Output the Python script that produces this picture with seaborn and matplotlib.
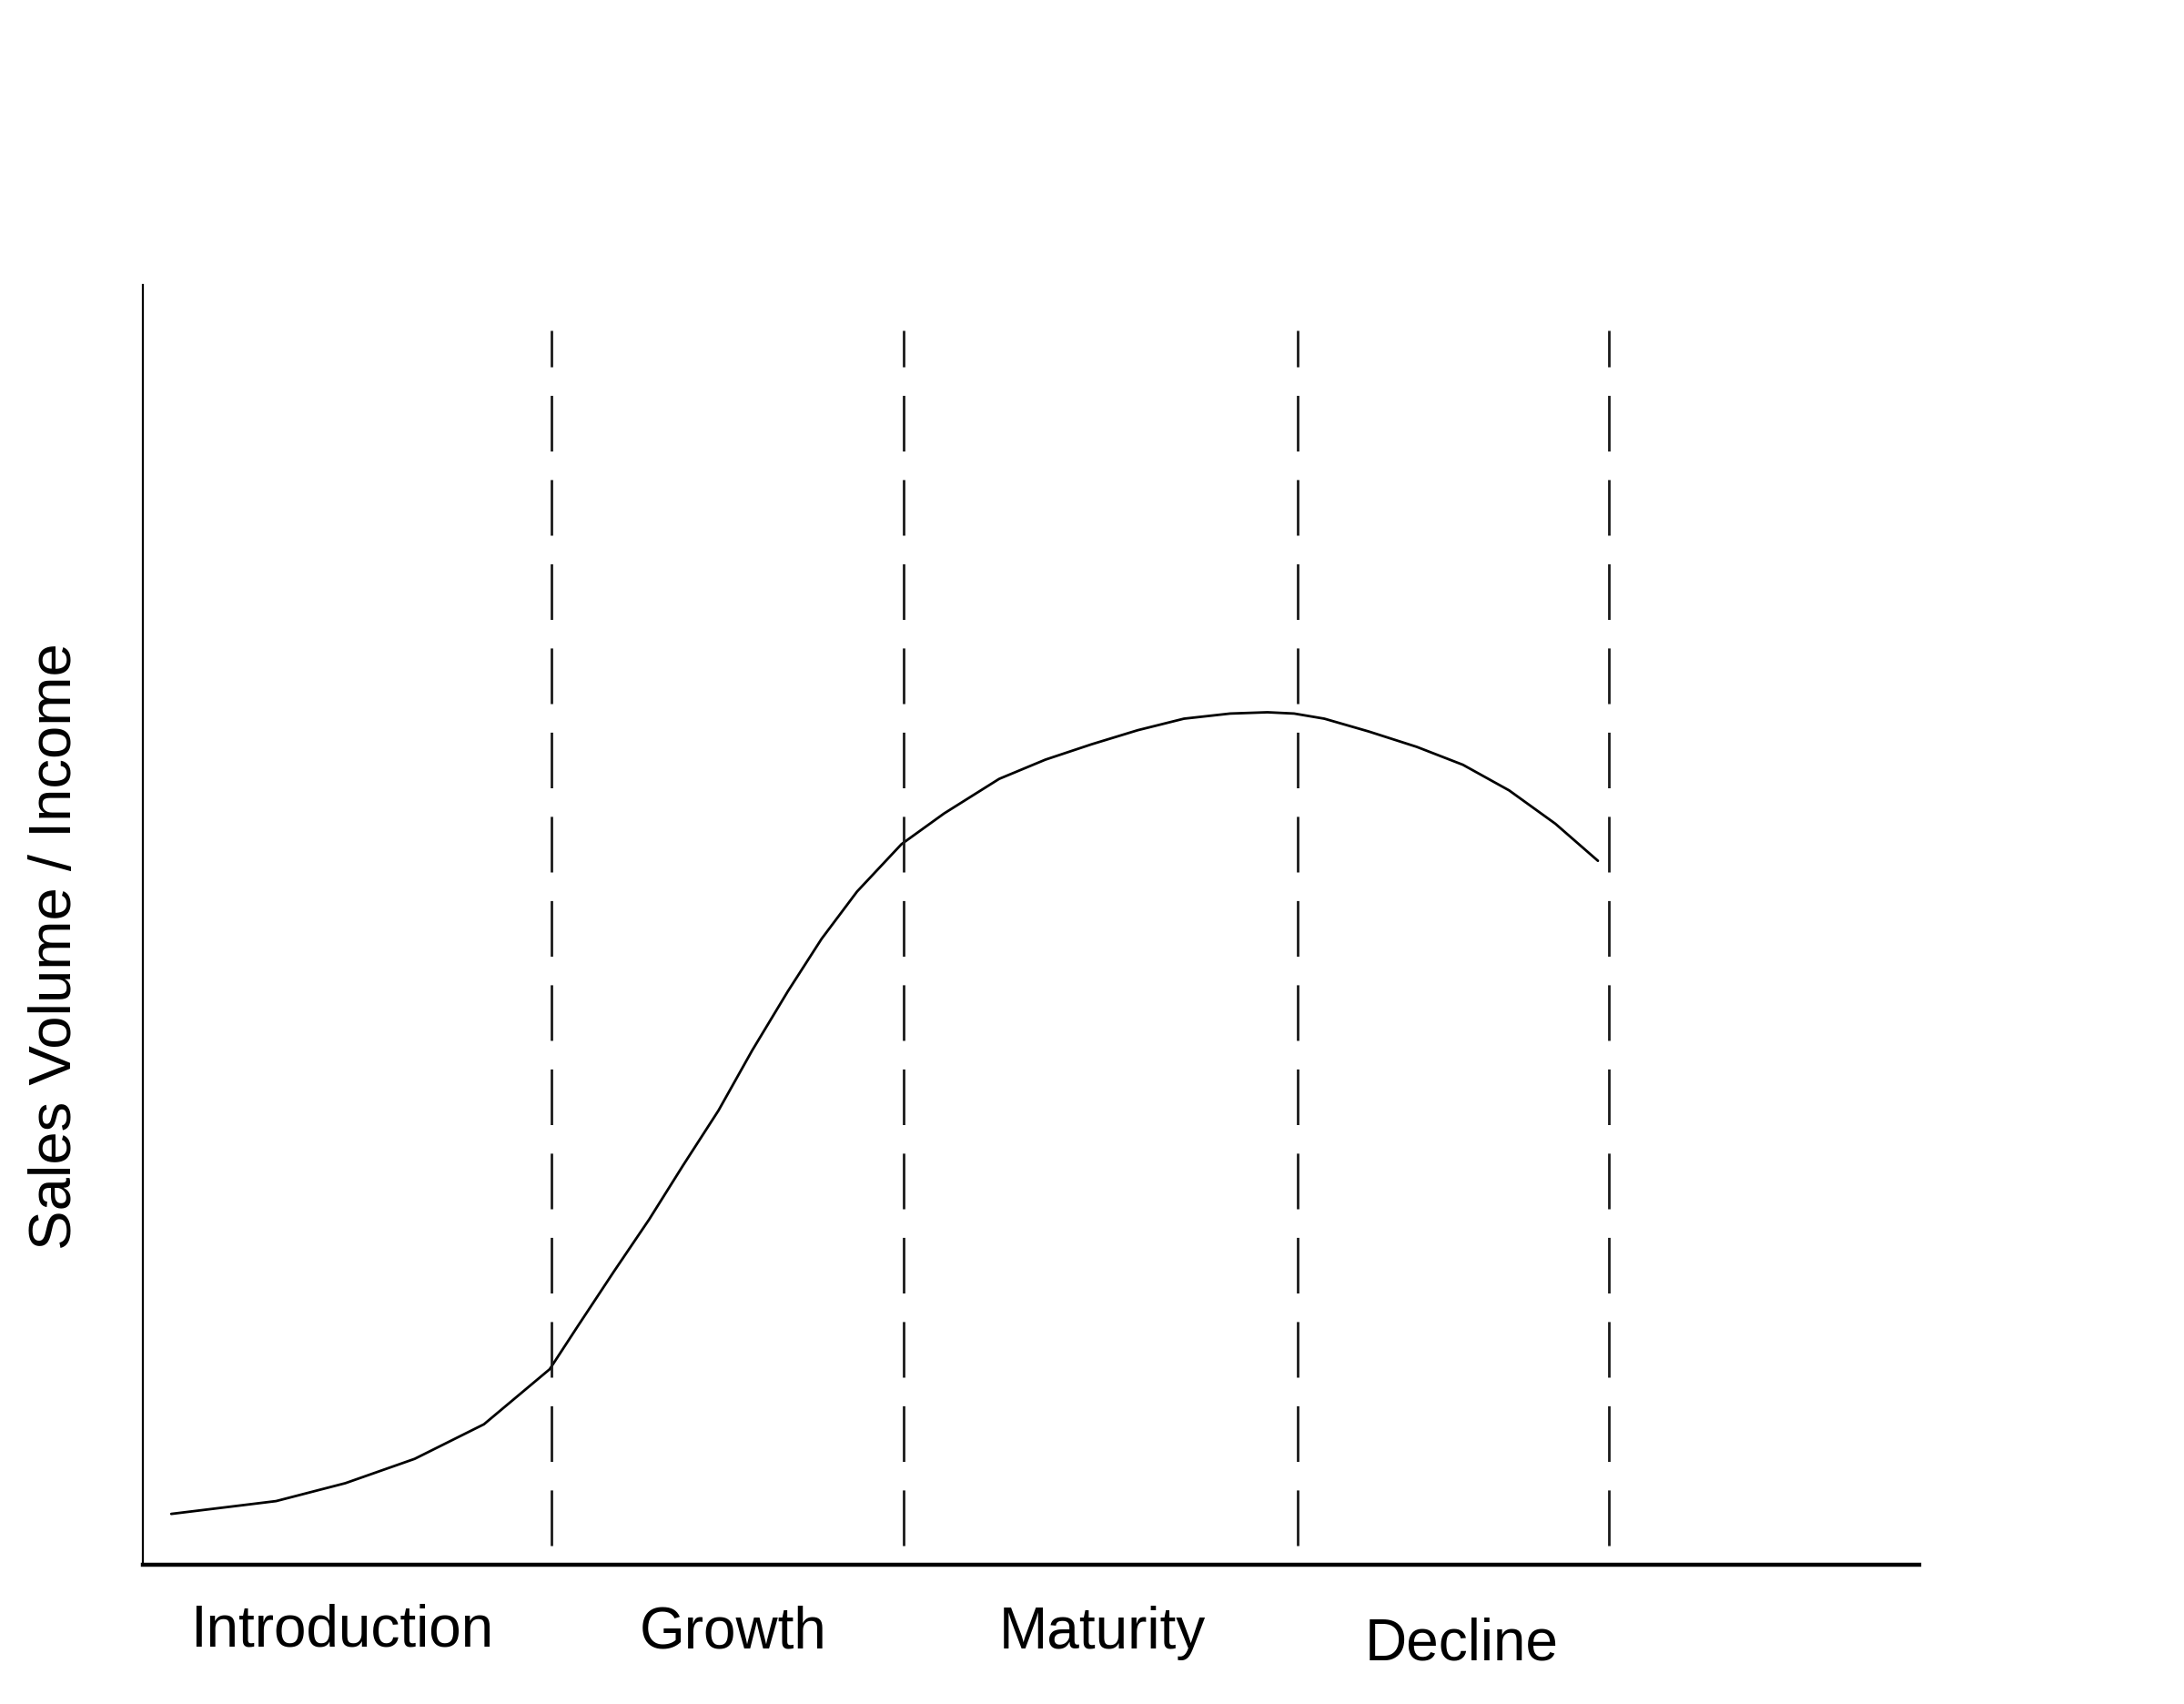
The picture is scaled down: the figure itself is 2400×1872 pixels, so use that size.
import matplotlib
matplotlib.use("Agg")
import matplotlib.pyplot as plt
import seaborn as sns
import pandas as pd

# product life cycle curve (axis units 0-100)
time_pts = [1.6, 7.5, 11.4, 15.3, 19.2, 22.9, 24.5, 26.5, 28.5, 30.4, 32.4, 34.3,
            36.3, 38.2, 40.2, 42.7, 45.1, 48.2, 50.8, 53.4, 56.0, 58.6, 61.2, 63.3,
            64.8, 66.5, 69.0, 71.7, 74.3, 76.9, 79.5, 81.9]
sales_pts = [4.0, 5.0, 6.4, 8.3, 11.0, 15.3, 18.7, 22.9, 27.0, 31.2, 35.5, 40.2,
             44.8, 48.9, 52.6, 56.3, 58.7, 61.4, 62.9, 64.1, 65.2, 66.1, 66.5, 66.6,
             66.5, 66.1, 65.1, 63.9, 62.5, 60.5, 57.9, 55.0]

stages = ["Introduction", "Growth", "Maturity", "Decline"]
stage_ends = [23.0, 42.8, 65.0, 82.5]

df = pd.DataFrame({"time": time_pts, "sales": sales_pts})

sns.set_theme(style="white")
plt.rcParams["font.family"] = ["Liberation Sans", "DejaVu Sans"]

fig = plt.figure(figsize=(24, 18.72), dpi=100)
ax = fig.add_axes([0.0654, 0.0815, 0.8135, 0.7515])

sns.lineplot(data=df, x="time", y="sales", color="black", linewidth=2.0, ax=ax)

# dashed stage boundaries
for xb in stage_ends:
    ax.axvline(xb, ymin=0.015, ymax=0.964, color="#1a1a1a", linewidth=2.0,
               dashes=(22, 11.3))

# stage names roughly centred in each stage
starts = [0.0] + stage_ends[:-1]
label_dx = [-0.3, 0.3, 0.1, 0.5]
label_y = [-6.3, -6.5, -6.5, -7.4]
for name, x0, x1, dx, yy in zip(stages, starts, stage_ends, label_dx, label_y):
    ax.text((x0 + x1) / 2 + dx, yy, name, ha="center", va="baseline",
            fontsize=46, color="black", clip_on=False)

fig.text(0.0325, 0.4444, "Sales Volume / Income", rotation=90,
         rotation_mode="anchor", ha="center", va="baseline",
         fontsize=47, color="black")

ax.set_xlim(0, 100)
ax.set_ylim(0, 100)
ax.set_xticks([])
ax.set_yticks([])
ax.set_xlabel("")
ax.set_ylabel("")
sns.despine(ax=ax)
ax.spines["left"].set_color("black")
ax.spines["left"].set_linewidth(1.6)
ax.spines["bottom"].set_color("black")
ax.spines["bottom"].set_linewidth(3.2)

fig.savefig("out.png", dpi=100, facecolor="white")
